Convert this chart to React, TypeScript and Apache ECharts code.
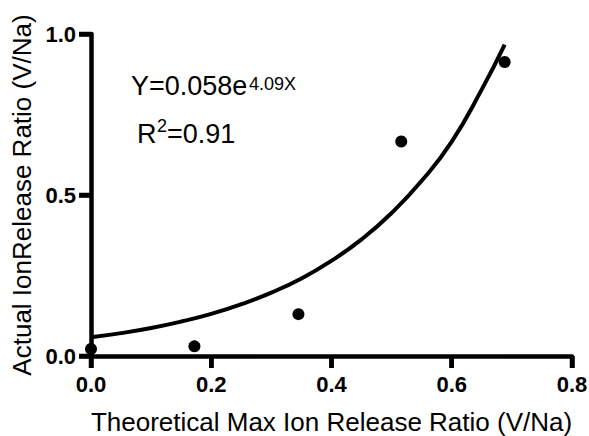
import React, { useEffect, useRef } from "react";
import * as echarts from "echarts";

const xTicks = [0, 0.2, 0.4, 0.6, 0.8];
const yTicks = [0, 0.5, 1.0];
const pointsX = [0.0, 0.172, 0.345, 0.516, 0.688];
const pointsY = [0.022, 0.03, 0.13, 0.666, 0.913];
const curveX = [0, 0.05, 0.1, 0.15, 0.2, 0.25, 0.3, 0.35, 0.4, 0.45, 0.5, 0.55, 0.6, 0.65, 0.688];
const curveY = [0.058, 0.071, 0.087, 0.107, 0.131, 0.161, 0.197, 0.241, 0.296, 0.362, 0.444, 0.544, 0.666, 0.828, 0.967];
const xTitle = "Theoretical Max Ion Release Ratio (V/Na)";
const yTitle = "Actual IonRelease Ratio (V/Na)";
const eqMain = "Y=0.058e";
const eqSup = "4.09X";
const r2Main = "R";
const r2Sup = "2";
const r2Rest = "=0.91";

const FONT = "'Liberation Sans', Arial, sans-serif";
const TICK_LEN = 12;
const LINE_W = 4.5;

export default function App() {
  const ref = useRef<HTMLDivElement>(null);
  useEffect(() => {
    if (!ref.current) return;
    const chart = echarts.init(ref.current, null, { renderer: "svg" });
    const axisBase = (name: string, interval: number, min: number, max: number, margin: number) => ({
      type: "value",
      min,
      max,
      interval,
      name,
      nameLocation: "middle",
      nameTextStyle: { color: "#000", fontSize: 26, fontFamily: FONT },
      axisLine: { show: true, onZero: false, lineStyle: { color: "#000", width: LINE_W } },
      axisTick: { show: true, length: TICK_LEN, lineStyle: { color: "#000", width: LINE_W } },
      splitLine: { show: false },
      axisLabel: {
        color: "#000",
        fontWeight: "bold",
        fontSize: 22,
        fontFamily: FONT,
        margin,
        formatter: (v: number) => v.toFixed(1),
      },
    });
    chart.setOption({
      animation: false,
      grid: { left: 91, right: 17, top: 34, bottom: 80, outerBoundsMode: "none" },
      xAxis: { ...axisBase(xTitle, 0.2, xTicks[0], xTicks[xTicks.length - 1], 17), nameGap: 53 },
      yAxis: { ...axisBase(yTitle, 0.5, yTicks[0], yTicks[yTicks.length - 1], 15), nameGap: 54, nameRotate: 90 },
      series: [
        {
          type: "line",
          data: curveX.map((x, i) => [x, curveY[i]]),
          smooth: true,
          showSymbol: false,
          lineStyle: { color: "#000", width: 4 },
          z: 2,
        },
        {
          type: "scatter",
          data: pointsX.map((x, i) => [x, pointsY[i]]),
          symbol: "circle",
          symbolSize: 12,
          itemStyle: { color: "#000", opacity: 1 },
          z: 3,
        },
      ],
    });

    // Tick marks placed through the chart's own scales
    const tickEls: any[] = [];
    xTicks.forEach((v) => {
      const p = chart.convertToPixel({ gridIndex: 0 }, [v, yTicks[0]]) as number[];
      tickEls.push({
        type: "line",
        silent: true,
        shape: { x1: p[0], y1: p[1], x2: p[0], y2: p[1] + TICK_LEN },
        style: { stroke: "#000", lineWidth: LINE_W },
      });
    });
    yTicks.forEach((v) => {
      const p = chart.convertToPixel({ gridIndex: 0 }, [xTicks[0], v]) as number[];
      tickEls.push({
        type: "line",
        silent: true,
        shape: { x1: p[0], y1: p[1], x2: p[0] - TICK_LEN, y2: p[1] },
        style: { stroke: "#000", lineWidth: LINE_W },
      });
    });

    chart.setOption({
      graphic: [
        {
          type: "text",
          left: 131,
          top: 72,
          style: { text: eqMain, fontSize: 27, fontFamily: FONT, fill: "#000" },
        },
        {
          type: "text",
          left: 249,
          top: 75,
          style: { text: eqSup, fontSize: 18, fontFamily: FONT, fill: "#000" },
        },
        {
          type: "text",
          left: 137,
          top: 120,
          style: { text: r2Main, fontSize: 27, fontFamily: FONT, fill: "#000" },
        },
        {
          type: "text",
          left: 157,
          top: 117,
          style: { text: r2Sup, fontSize: 18, fontFamily: FONT, fill: "#000" },
        },
        {
          type: "text",
          left: 167,
          top: 120,
          style: { text: r2Rest, fontSize: 27, fontFamily: FONT, fill: "#000" },
        },
        ...tickEls,
      ],
    });
    return () => chart.dispose();
  }, []);
  return <div ref={ref} style={{ width: 589, height: 436, position: "absolute", left: 0, top: 0 }} />;
}
